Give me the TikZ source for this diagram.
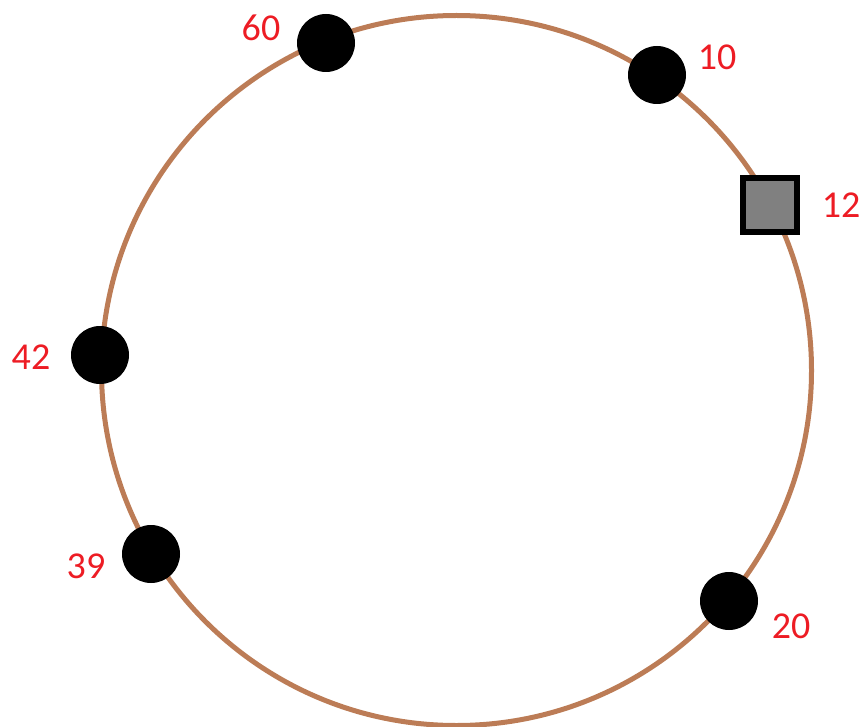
\documentclass[tikz,border=0pt]{standalone}
\usepackage{fontspec}
\setmainfont{Carlito}
\definecolor{ring}{RGB}{188,124,86}
\definecolor{lab}{RGB}{237,28,36}
\definecolor{boxgray}{RGB}{128,128,128}
\begin{document}
\begin{tikzpicture}[x=1pt,y=-1pt,
  dot/.style={circle,fill=black,inner sep=0pt,minimum size=58pt},
  sq/.style={rectangle,draw=black,line width=6pt,fill=boxgray,inner sep=0pt,minimum size=54pt},
  lbl/.style={text=lab,font=\fontsize{38}{38}\selectfont,inner sep=0pt}]
\useasboundingbox (0,0) rectangle (864,727);
\node[circle,draw=ring,line width=5pt,minimum size=710pt,inner sep=0pt] (ring) at (456.5,370.5) {};
\node[dot] (n60) at (326,43) {};
\node[dot] (n10) at (657,75) {};
\node[sq] (n12) at (770,205) {};
\node[dot] (n42) at (100,355) {};
\node[dot] (n39) at (151,554) {};
\node[dot] (n20) at (729,601) {};
\node[lbl] (l60) at (261,28) {60};
\node[lbl] (l10) at (717,57) {10};
\node[lbl] (l12) at (841,205) {12};
\node[lbl] (l42) at (31,357) {42};
\node[lbl] (l39) at (86,566) {39};
\node[lbl] (l20) at (791,626) {20};
\end{tikzpicture}
\end{document}
